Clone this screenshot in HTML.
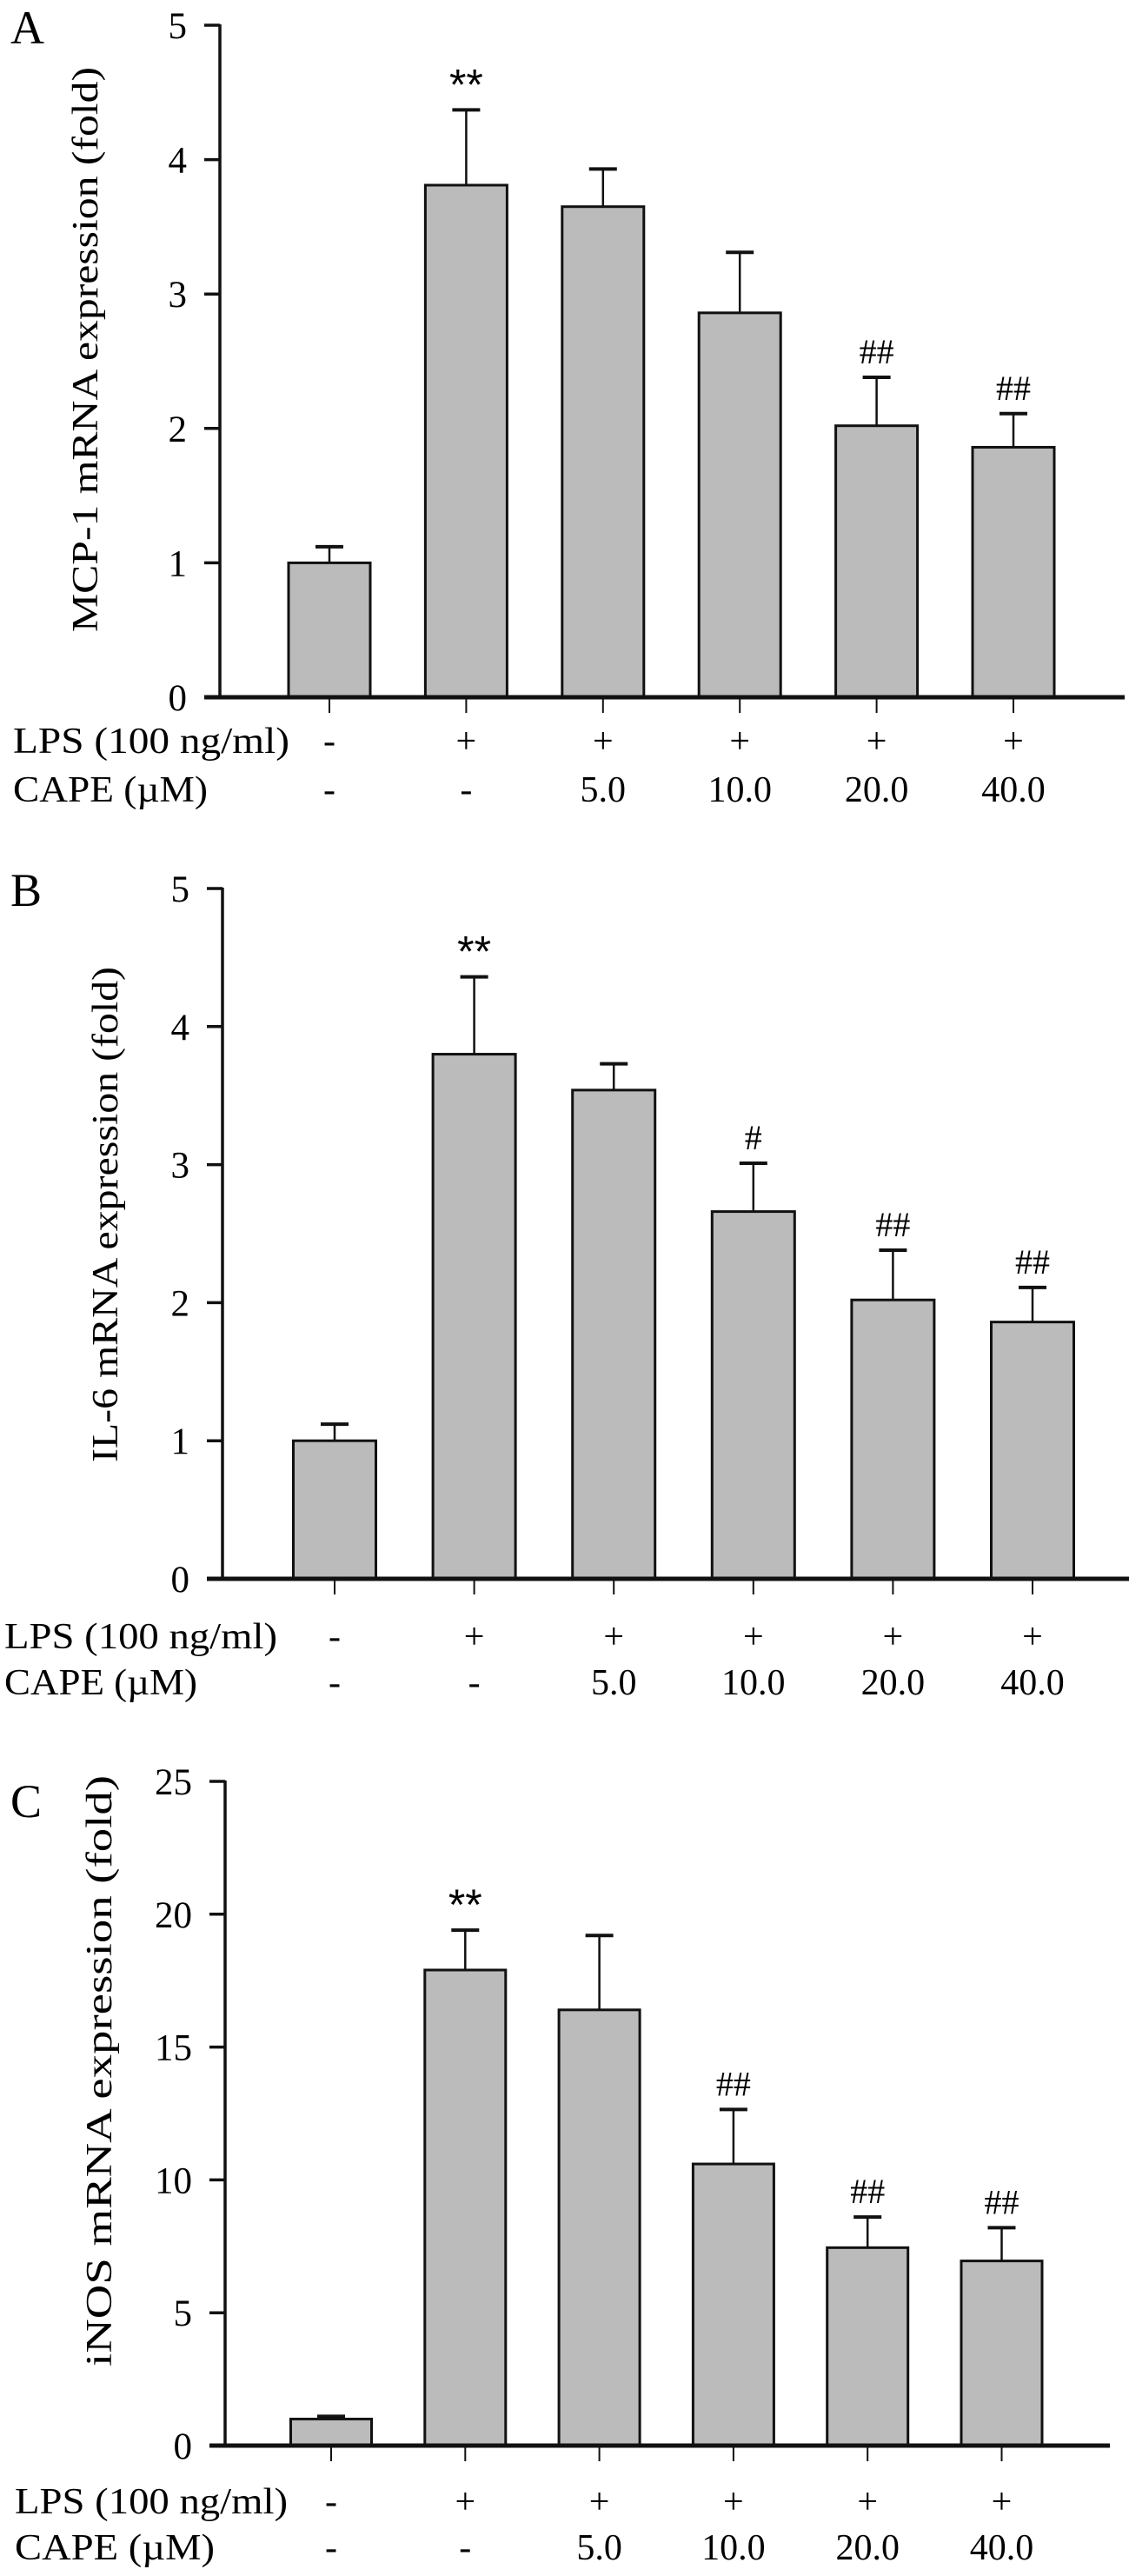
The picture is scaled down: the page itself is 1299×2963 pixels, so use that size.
<!DOCTYPE html>
<html><head><meta charset="utf-8"><style>
html,body{margin:0;padding:0;background:#fff;}
svg{display:block;font-family:"Liberation Serif","Times New Roman",serif;}
</style></head><body>
<svg id="fig" width="1299" height="2963" viewBox="0 0 1299 2963" xmlns="http://www.w3.org/2000/svg"></svg>
<script>
// ---- data ----
const lpsRow = ["-", "+", "+", "+", "+", "+"];
const capeRow = ["-", "-", "5.0", "10.0", "20.0", "40.0"];
const mcpMeans = [1.0, 3.81, 3.65, 2.86, 2.02, 1.86];
const mcpErr = [0.12, 0.56, 0.28, 0.45, 0.36, 0.25];
const mcpMarks = ["", "**", "", "", "##", "##"];
const il6Means = [1.0, 3.80, 3.54, 2.66, 2.02, 1.86];
const il6Err = [0.12, 0.56, 0.19, 0.35, 0.36, 0.25];
const il6Marks = ["", "**", "", "#", "##", "##"];
const inosMeans = [1.0, 17.9, 16.4, 10.6, 7.45, 6.95];
const inosErr = [0.1, 1.5, 2.8, 2.05, 1.15, 1.25];
const inosMarks = ["", "**", "", "##", "##", "##"];
const ticksAB = [0, 1, 2, 3, 4, 5];
const ticksC = [0, 5, 10, 15, 20, 25];

const NS = "http://www.w3.org/2000/svg";
const svg = document.getElementById("fig");
function mk(tag, attrs, parent, text) {
  const e = document.createElementNS(NS, tag);
  for (const k in attrs) e.setAttribute(k, attrs[k]);
  if (text !== undefined) e.textContent = text;
  (parent || svg).appendChild(e);
  return e;
}

function panel(cfg) {
  const g = mk("g", {});
  
  
  const y = v => cfg.y0 - (v / cfg.ymax) * (cfg.y0 - cfg.yTop);
  const x = i => cfg.c0 + i * cfg.step;
  const L = mk("text", {x: cfg.letterX, y: cfg.letterY, "font-size": 54}, g, cfg.letter);
  
  
  const t = mk("text", {x: 0, y: 0, "font-size": 42, "text-anchor": "middle",
    transform: `translate(${cfg.titleX},${cfg.titleY}) rotate(-90)`,
    textLength: cfg.titleLen, lengthAdjust: "spacingAndGlyphs"}, g, cfg.title);
  
  
  cfg.means.forEach((m, i) => {
    const cx = x(i);
    const ec = y(m + cfg.err[i]);
    const eb = mk("line", {x1: cx, x2: cx, y1: y(m), y2: ec, stroke: "#111", "stroke-width": 2.5}, g);
    
    
    const cap = mk("line", {x1: cx - 16, x2: cx + 16, y1: ec, y2: ec, stroke: "#111", "stroke-width": 4}, g);
    
    
    const r = mk("rect", {x: cx - cfg.bw / 2, y: y(m), width: cfg.bw, height: cfg.y0 - y(m),
      fill: "#bbbbbb", stroke: "#111", "stroke-width": 3}, g);
    
    
    if (cfg.marks[i]) {
      const star = cfg.marks[i].startsWith("*");
      const s = mk("text", {x: cx, y: ec - (star ? 12 : 16), "font-size": star ? 50 : 40, "text-anchor": "middle",
        "font-family": star ? "Liberation Sans, sans-serif" : "Liberation Serif, serif"}, g, cfg.marks[i]);
      
      
    }
    const tk = mk("line", {x1: cx, x2: cx, y1: cfg.y0, y2: cfg.y0 + 18, stroke: "#111", "stroke-width": 2}, g);
    
    
    const l1 = mk("text", {x: cx, y: cfg.lpsY, "font-size": 42, "text-anchor": "middle"}, g, lpsRow[i]);
    
    
    const l2 = mk("text", {x: cx, y: cfg.capeY, "font-size": 42, "text-anchor": "middle"}, g, capeRow[i]);
    
    
  });
  const ya = mk("line", {x1: cfg.ax, x2: cfg.ax, y1: cfg.yTop - 1, y2: cfg.y0, stroke: "#111", "stroke-width": 3.5}, g);
  
  
  const xa = mk("line", {x1: cfg.ax - 18, x2: cfg.xEnd, y1: cfg.y0, y2: cfg.y0, stroke: "#111", "stroke-width": 5}, g);
  
  
  cfg.ticks.forEach(v => {
    const tl = mk("line", {x1: cfg.ax - 18, x2: cfg.ax, y1: y(v), y2: y(v), stroke: "#111", "stroke-width": 3.5}, g);
    
    
    const tx = mk("text", {x: cfg.ax - 38, y: y(v) + 15, "font-size": 43, "text-anchor": "end"}, g, String(v));
    
    
  });
  const r1 = mk("text", {x: cfg.rowX, y: cfg.lpsY, "font-size": 42, textLength: cfg.rowLen1, lengthAdjust: "spacingAndGlyphs"}, g, "LPS (100 ng/ml)");
  
  
  const r2 = mk("text", {x: cfg.rowX, y: cfg.capeY, "font-size": 42, textLength: cfg.rowLen2, lengthAdjust: "spacingAndGlyphs"}, g, "CAPE (\u00b5M)");
  
  
}

panel({name: "panel-a-mcp1", letter: "A", letterX: 12, letterY: 50, title: "MCP-1 mRNA expression (fold)",
  titleX: 112, titleY: 402, titleLen: 650, ax: 253, yTop: 29, y0: 802, ymax: 5, ticks: ticksAB,
  c0: 379, step: 157.4, bw: 94, xEnd: 1294, means: mcpMeans, err: mcpErr, marks: mcpMarks,
  lpsY: 866, capeY: 922, rowX: 15, rowLen1: 318, rowLen2: 224});

panel({name: "panel-b-il6", letter: "B", letterX: 12, letterY: 1042, title: "IL-6 mRNA expression (fold)",
  titleX: 135, titleY: 1397, titleLen: 570, ax: 256, yTop: 1022, y0: 1816, ymax: 5, ticks: ticksAB,
  c0: 385, step: 160.6, bw: 95, xEnd: 1299, means: il6Means, err: il6Err, marks: il6Marks,
  lpsY: 1896, capeY: 1949, rowX: 5, rowLen1: 314, rowLen2: 222});

panel({name: "panel-c-inos", letter: "C", letterX: 12, letterY: 2090, title: "iNOS mRNA expression (fold)",
  titleX: 128, titleY: 2382, titleLen: 680, ax: 259, yTop: 2049, y0: 2813, ymax: 25, ticks: ticksC,
  c0: 381, step: 154.3, bw: 93, xEnd: 1277, means: inosMeans, err: inosErr, marks: inosMarks,
  lpsY: 2891, capeY: 2944, rowX: 17, rowLen1: 314, rowLen2: 230});
</script>
</body></html>
